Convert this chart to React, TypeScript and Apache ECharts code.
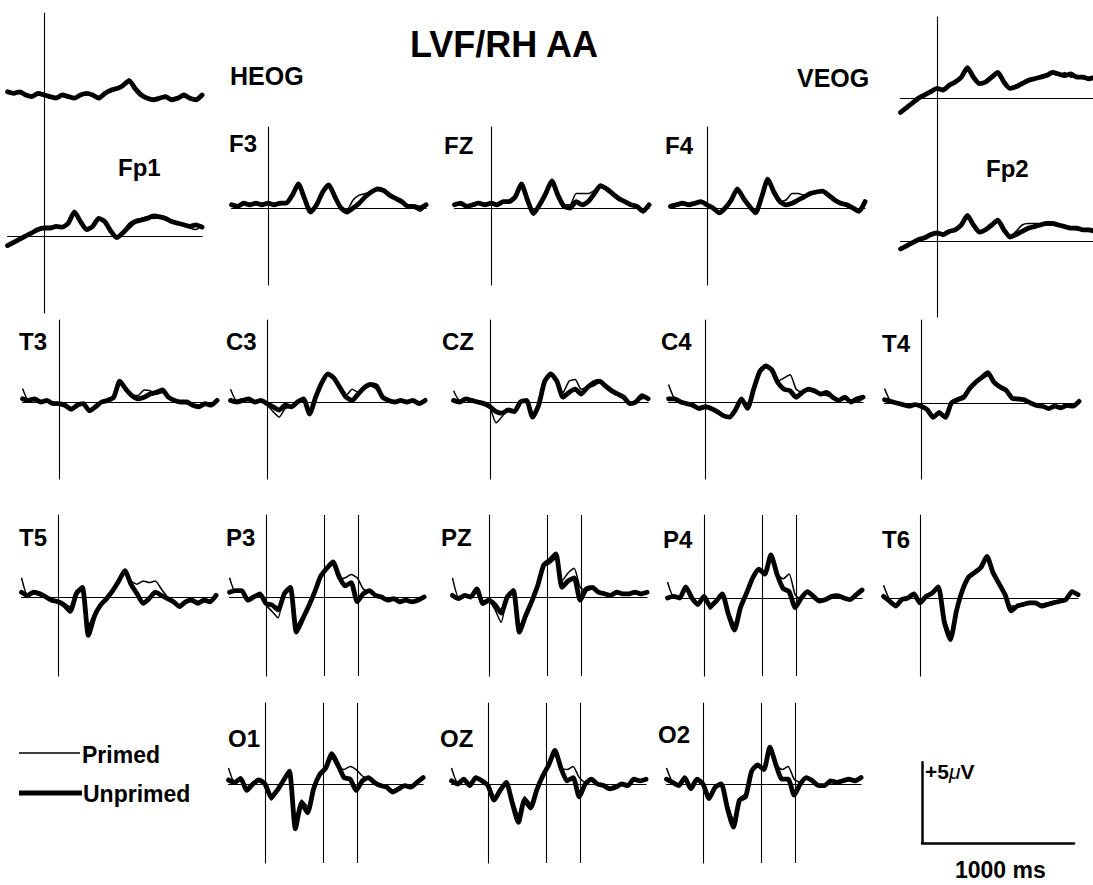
import React, { useEffect, useRef } from "react";
import * as echarts from "echarts";

// ---------- data (ms, µV) ----------
const TIMES = [-240, -200, -160, -120, -80, -40, 0, 40, 80, 120, 160, 200, 240, 280, 320, 360, 400, 440, 480, 520, 560, 600, 640, 680, 720, 760, 800, 840, 880, 920, 960, 1000, 1040];
const MARKER_TIMES = [385, 605];
const SCALE_MS = 1000;
const SCALE_UV = 5;

const HEOG_U = [0.2, 0.1, 0.2, 0.0, -0.1, 0.1, 0.0, -0.1, -0.2, 0.0, -0.1, -0.2, 0.0, 0.1, 0.0, -0.2, 0.1, 0.3, 0.4, 0.6, 0.9, 0.4, 0.0, -0.2, -0.3, -0.2, -0.1, -0.3, -0.2, 0.0, -0.2, -0.3, 0.0];
const HEOG_P = [0.1, 0.2, 0.1, 0.0, 0.0, 0.0, 0.1, -0.1, -0.1, 0.0, 0.0, -0.2, 0.0, 0.0, 0.1, -0.1, 0.1, 0.2, 0.4, 0.7, 1.0, 0.5, 0.0, -0.2, -0.2, -0.2, -0.2, -0.2, -0.1, -0.1, -0.2, -0.2, 0.0];
const FP1_U = [-0.6, -0.4, -0.2, 0.0, 0.2, 0.4, 0.5, 0.5, 0.6, 0.55, 0.8, 1.5, 0.9, 0.4, 0.6, 1.1, 0.9, 0.3, -0.1, 0.2, 0.6, 0.9, 1.0, 1.1, 1.25, 1.2, 1.1, 0.9, 0.8, 0.7, 0.6, 0.7, 0.55];
const FP1_P = [-0.5, -0.5, -0.1, 0.1, 0.2, 0.3, 0.5, 0.6, 0.5, 0.6, 0.9, 1.4, 0.8, 0.4, 0.5, 1.1, 0.9, 0.3, 0.0, 0.3, 0.8, 1.0, 1.1, 1.2, 1.1, 1.15, 1.0, 0.85, 0.8, 0.7, 0.5, 0.4, 0.7];
const F3_U = [0.2, 0.1, 0.3, 0.2, 0.3, 0.2, 0.3, 0.2, 0.3, 0.3, 0.8, 1.5, 0.6, -0.25, 0.2, 1.0, 1.45, 0.7, 0.0, -0.25, 0.0, 0.3, 0.7, 1.0, 1.2, 1.1, 0.8, 0.6, 0.4, 0.1, 0.1, 0.0, 0.2];
const F3_P = [0.3, 0.2, 0.2, 0.3, 0.2, 0.3, 0.2, 0.3, 0.2, 0.4, 0.9, 1.4, 0.5, -0.2, 0.3, 1.1, 1.4, 0.6, 0.1, -0.1, 0.5, 0.8, 0.9, 1.0, 1.1, 1.0, 0.9, 0.5, 0.3, 0.2, 0.0, -0.2, 0.1];
const FZ_U = [0.2, 0.3, 0.1, 0.2, 0.3, 0.2, 0.3, 0.2, 0.4, 0.4, 0.7, 1.5, 0.5, -0.35, 0.2, 0.9, 1.7, 0.8, 0.1, 0.0, 0.4, 0.2, 0.4, 0.9, 1.4, 1.2, 0.9, 0.6, 0.4, 0.2, 0.1, -0.2, 0.2];
const FZ_P = [0.3, 0.2, 0.2, 0.1, 0.3, 0.3, 0.2, 0.3, 0.3, 0.5, 0.8, 1.4, 0.4, -0.3, 0.3, 1.0, 1.6, 0.7, 0.2, 0.2, 0.9, 0.9, 0.9, 1.1, 1.3, 1.1, 0.8, 0.5, 0.4, 0.2, 0.0, -0.3, 0.3];
const F4_U = [0.1, 0.2, 0.3, 0.2, 0.3, 0.4, 0.2, 0.0, -0.3, 0.0, 0.5, 1.2, 0.6, 0.1, -0.3, 0.7, 1.8, 1.0, 0.4, 0.2, 0.3, 0.5, 0.7, 0.9, 1.0, 1.05, 0.8, 0.5, 0.3, 0.2, 0.0, -0.2, 0.4];
const F4_P = [0.2, 0.3, 0.2, 0.3, 0.2, 0.3, 0.3, -0.1, -0.2, 0.1, 0.6, 1.1, 0.5, 0.1, -0.2, 0.8, 1.7, 0.9, 0.4, 0.5, 0.9, 0.9, 0.8, 0.9, 1.0, 1.0, 0.7, 0.4, 0.3, 0.1, -0.1, -0.3, 0.3];
const VEOG_U = [-0.9, -0.6, -0.3, 0.0, 0.2, 0.4, 0.6, 0.5, 0.8, 1.0, 1.3, 1.9, 1.3, 0.9, 1.0, 1.3, 1.6, 1.0, 0.6, 0.7, 0.9, 1.1, 1.2, 1.3, 1.4, 1.6, 1.5, 1.4, 1.5, 1.3, 1.3, 1.2, 1.3];
const VEOG_P = [-0.8, -0.7, -0.2, 0.1, 0.2, 0.5, 0.6, 0.6, 0.7, 1.0, 1.2, 1.8, 1.2, 0.9, 1.1, 1.4, 1.5, 0.9, 0.6, 0.8, 1.0, 1.1, 1.2, 1.4, 1.5, 1.5, 1.4, 1.6, 1.3, 1.4, 1.2, 1.3, 1.2];
const FP2_U = [-0.5, -0.3, -0.1, 0.1, 0.2, 0.4, 0.5, 0.4, 0.6, 0.7, 1.0, 1.6, 1.0, 0.55, 0.7, 1.0, 1.3, 0.7, 0.25, 0.4, 0.6, 0.8, 0.9, 1.0, 1.1, 1.1, 1.0, 0.9, 0.8, 0.8, 0.7, 0.7, 0.6];
const FP2_P = [-0.4, -0.4, 0.0, 0.1, 0.3, 0.3, 0.5, 0.5, 0.5, 0.8, 1.1, 1.5, 0.9, 0.5, 0.8, 1.1, 1.2, 0.6, 0.3, 0.6, 1.0, 1.1, 1.1, 1.1, 1.0, 1.0, 0.9, 0.9, 0.8, 0.7, 0.7, 0.6, 0.6];
const T3_U = [0.2, 0.1, 0.2, 0.0, 0.1, -0.1, -0.1, -0.2, -0.45, -0.2, -0.1, -0.55, -0.3, 0.0, 0.1, 0.3, 1.3, 0.8, 0.4, 0.2, 0.3, 0.5, 0.6, 0.75, 0.3, 0.1, 0.0, 0.0, -0.2, -0.3, -0.1, -0.2, 0.1];
const T3_P = [0.85, 0.1, 0.1, 0.1, 0.0, 0.0, -0.2, -0.3, -0.5, -0.1, -0.2, -0.5, -0.2, 0.0, 0.2, 0.4, 1.2, 0.7, 0.4, 0.4, 0.75, 0.7, 0.5, 0.6, 0.3, 0.1, 0.0, -0.1, -0.2, -0.2, -0.2, -0.1, 0.1];
const C3_U = [0.1, 0.0, 0.1, 0.2, 0.0, 0.1, -0.1, -0.3, -0.5, -0.2, -0.3, 0.0, 0.2, -0.75, 0.3, 1.2, 1.75, 1.5, 0.9, 0.3, 0.1, 0.5, 0.9, 1.1, 1.0, 0.3, 0.1, 0.0, 0.1, 0.0, 0.1, -0.1, 0.1];
const C3_P = [0.8, 0.1, 0.2, 0.1, 0.0, 0.0, -0.2, -0.6, -0.95, -0.4, -0.3, 0.0, 0.2, -0.6, 0.3, 1.1, 1.7, 1.4, 0.8, 0.4, 0.8, 0.6, 0.8, 1.0, 0.8, 0.4, 0.2, 0.0, 0.1, 0.0, 0.0, 0.0, 0.1];
const CZ_U = [0.1, 0.0, 0.2, 0.1, 0.0, -0.1, -0.3, -0.6, -0.7, -0.5, -0.6, 0.0, 0.1, -0.95, -0.2, 1.3, 1.75, 1.3, 0.3, 0.6, 0.8, 0.5, 0.9, 1.2, 1.3, 1.0, 0.7, 0.5, 0.3, -0.1, 0.0, 0.4, 0.2];
const CZ_P = [0.7, 0.1, 0.2, 0.0, 0.0, -0.2, -0.4, -1.3, -0.9, -0.5, -0.6, 0.0, 0.1, -0.8, -0.1, 1.2, 1.7, 1.2, 0.6, 1.3, 1.4, 0.8, 0.9, 1.0, 1.2, 0.9, 0.6, 0.4, 0.2, -0.1, 0.1, 0.2, 0.3];
const C4_U = [0.2, 0.2, 0.0, -0.1, -0.2, -0.4, -0.3, -0.4, -0.6, -0.85, -0.95, -0.5, 0.2, -0.4, 0.8, 1.9, 2.25, 2.0, 1.2, 0.8, 0.7, 0.3, 0.6, 0.8, 0.7, 0.5, 0.6, 0.3, 0.1, 0.3, 0.0, 0.2, 0.3];
const C4_P = [1.1, 0.2, 0.1, -0.1, -0.3, -0.5, -0.2, -0.3, -0.7, -0.8, -0.9, -0.4, 0.1, -0.3, 0.7, 1.8, 2.2, 1.9, 1.3, 1.5, 1.7, 0.8, 0.6, 0.7, 0.6, 0.5, 0.4, 0.3, 0.1, 0.2, 0.1, 0.0, 0.2];
const T4_U = [0.2, 0.1, 0.0, -0.1, -0.2, -0.1, -0.2, -0.4, -0.9, -0.6, -0.9, 0.0, 0.2, 0.35, 0.9, 1.3, 1.6, 1.9, 1.3, 1.0, 0.8, 0.3, 0.25, 0.2, 0.0, -0.15, -0.2, -0.35, -0.2, -0.3, -0.15, -0.2, 0.1];
const T4_P = [0.9, 0.1, 0.0, -0.1, -0.1, -0.2, -0.1, -0.5, -0.8, -0.5, -0.8, 0.1, 0.3, 0.5, 1.0, 1.4, 1.5, 1.7, 1.4, 1.1, 0.7, 0.4, 0.2, 0.1, 0.0, -0.2, -0.2, -0.3, -0.2, -0.2, -0.2, -0.1, 0.1];
const T5_U = [0.3, 0.1, 0.3, 0.2, 0.0, -0.2, -0.3, -0.5, -0.9, 0.2, 0.6, -2.4, -1.2, -0.5, -0.1, 0.4, 1.0, 1.65, 0.8, 0.2, -0.4, -0.1, 0.3, 0.1, -0.1, -0.3, -0.6, -0.3, -0.2, -0.4, -0.2, -0.3, 0.1];
const T5_P = [1.2, 0.1, 0.2, 0.1, 0.1, -0.3, -0.2, -0.4, -0.6, 0.4, 0.5, -1.8, -1.0, -0.4, 0.0, 0.5, 1.0, 1.5, 1.0, 0.8, 1.0, 0.9, 1.0, 0.5, 0.0, -0.3, -0.5, -0.2, -0.1, -0.3, -0.1, -0.2, 0.2];
const P3_U = [0.3, 0.4, 0.4, -0.2, 0.0, 0.2, -0.4, -0.5, -0.8, 0.2, 0.6, -2.2, -1.4, -0.6, 0.3, 1.3, 1.8, 2.2, 1.3, 0.7, 0.9, -0.3, 0.2, 0.4, 0.1, 0.0, -0.2, -0.1, -0.3, -0.2, -0.3, -0.2, 0.0];
const P3_P = [1.2, 0.3, 0.4, -0.1, 0.1, 0.1, -0.5, -0.9, -1.3, 0.3, 0.7, -1.8, -1.2, -0.5, 0.4, 1.2, 1.7, 2.0, 1.1, 1.2, 1.4, 1.2, 0.5, 0.3, 0.1, 0.0, -0.1, -0.2, -0.2, -0.2, -0.3, -0.1, 0.1];
const PZ_U = [0.1, -0.1, 0.1, 0.0, 0.5, -0.4, -0.2, -0.5, -1.0, 0.0, 0.4, -2.2, -1.2, -0.3, 0.7, 2.0, 2.3, 2.7, 0.6, 1.0, 1.2, -0.2, 0.5, 0.6, 0.3, 0.2, 0.1, 0.3, 0.2, 0.2, 0.3, 0.2, 0.3];
const PZ_P = [1.2, 0.0, 0.0, 0.1, 0.4, -0.5, -0.3, -0.8, -1.6, 0.1, 0.5, -1.9, -1.1, -0.2, 0.8, 1.9, 2.1, 2.4, 1.0, 1.5, 1.8, 0.6, 0.4, 0.5, 0.3, 0.2, 0.1, 0.2, 0.2, 0.1, 0.2, 0.1, 0.3];
const P4_U = [0.0, 0.1, 0.0, 0.7, 0.0, -0.4, 0.1, -0.5, -0.2, 0.25, -1.0, -2.0, -0.6, 0.3, 1.25, 1.8, 1.5, 2.7, 1.5, 0.6, 0.4, -0.6, 0.0, 0.4, 0.1, -0.2, -0.1, 0.1, 0.15, 0.0, -0.1, 0.2, 0.5];
const P4_P = [1.0, 0.1, 0.1, 0.6, 0.1, -0.5, 0.0, -0.7, -0.3, 0.3, -0.8, -1.6, -0.5, 0.4, 1.2, 1.7, 1.6, 2.4, 1.5, 1.2, 1.5, 0.2, -0.1, 0.3, 0.1, -0.1, -0.1, 0.0, 0.1, 0.0, -0.1, 0.1, 0.4];
const T6_U = [0.1, -0.2, -0.5, -0.1, 0.0, 0.25, -0.3, 0.1, 0.3, 0.7, -1.5, -2.6, -0.8, 0.5, 1.3, 1.6, 1.9, 2.6, 1.6, 0.9, 0.2, -0.8, -0.5, -0.4, -0.3, -0.3, -0.5, -0.4, -0.3, -0.2, -0.1, 0.4, 0.2];
const T6_P = [0.8, -0.1, -0.4, 0.0, 0.0, 0.2, -0.2, 0.1, 0.4, 0.6, -1.2, -2.2, -0.7, 0.6, 1.4, 1.5, 1.8, 2.4, 1.7, 1.0, 0.3, -0.5, -0.5, -0.3, -0.3, -0.4, -0.4, -0.3, -0.2, -0.2, 0.0, 0.3, 0.3];
const O1_U = [0.25, 0.1, 0.35, -0.4, 0.0, 0.25, 0.0, -0.8, -0.4, 0.2, 0.8, -2.8, -1.2, -1.8, -0.3, 0.6, 1.0, 1.9, 1.2, 0.4, 0.3, -0.4, 0.2, 0.4, 0.1, -0.1, -0.2, -0.5, -0.3, -0.1, -0.2, 0.1, 0.4];
const O1_P = [1.0, 0.1, 0.3, -0.3, 0.1, 0.2, -0.1, -1.0, -0.5, 0.3, 0.7, -2.2, -1.0, -1.4, -0.1, 0.6, 0.9, 1.6, 1.0, 0.9, 1.1, 0.9, 0.5, 0.3, 0.1, -0.1, -0.2, -0.4, -0.2, -0.1, -0.1, 0.2, 0.3];
const OZ_U = [0.2, 0.0, 0.3, -0.1, 0.4, 0.2, -0.1, -1.0, -0.4, 0.1, -1.2, -2.4, -1.0, -1.5, -0.4, 0.5, 1.2, 2.1, 1.0, 0.2, 0.4, -0.8, 0.0, 0.3, 0.0, -0.1, -0.3, -0.2, 0.0, -0.1, 0.3, 0.2, 0.3];
const OZ_P = [1.0, 0.1, 0.2, 0.0, 0.3, 0.1, -0.2, -1.1, -0.5, 0.2, -0.9, -1.9, -0.8, -1.2, -0.2, 0.6, 1.1, 1.8, 1.0, 0.9, 1.1, 0.4, 0.1, 0.2, 0.0, -0.1, -0.2, -0.1, 0.0, 0.0, 0.2, 0.2, 0.2];
const O2_U = [0.3, 0.1, -0.1, 0.4, -0.3, 0.3, 0.0, -0.9, -0.2, 0.0, -1.5, -2.7, -1.0, -0.8, 0.8, 1.2, 0.9, 2.3, 1.2, 0.3, 0.3, -0.7, 0.0, 0.4, 0.2, -0.1, -0.1, 0.2, 0.1, 0.2, 0.3, 0.2, 0.4];
const O2_P = [1.0, 0.1, 0.0, 0.3, -0.2, 0.2, -0.1, -1.0, -0.3, 0.1, -1.2, -2.2, -0.9, -0.6, 0.7, 1.1, 1.0, 2.0, 1.2, 0.9, 1.1, 0.3, 0.1, 0.3, 0.2, 0.0, -0.1, 0.1, 0.1, 0.2, 0.2, 0.1, 0.3];

// ---------- layout ----------
const PX_PER_MS = 0.152;
const PX_PER_UV = 16;
const T_MIN = -240;
const T_MAX = 1040;
const FONT = "'Liberation Sans', Arial, Helvetica, sans-serif";

type Panel = {
  unprimed: number[];
  primed: number[];
  onsetX: number;
  baseY: number;
  top: number;
  bottom: number;
  baseline: boolean;
  onset: boolean;
  markers: boolean;
};

const mk = (u: number[], p: number[], onsetX: number, baseY: number, top: number, bottom: number, opts: Partial<Panel> = {}): Panel => ({
  unprimed: u, primed: p, onsetX, baseY, top, bottom, baseline: true, onset: true, markers: false, ...opts,
});

const PANELS: Panel[] = [
  mk(HEOG_U, HEOG_P, 44, 95, 55, 135, { baseline: false, onset: false }),
  mk(FP1_U, FP1_P, 44, 236, 13, 313),
  mk(VEOG_U, VEOG_P, 937, 98, 58, 138, { onset: false }),
  mk(FP2_U, FP2_P, 937, 241, 17, 317),
  mk(F3_U, F3_P, 268, 208, 127, 285),
  mk(FZ_U, FZ_P, 491, 208, 127, 285),
  mk(F4_U, F4_P, 707, 208, 127, 285),
  mk(T3_U, T3_P, 59, 402, 320, 479),
  mk(C3_U, C3_P, 267, 402, 320, 479),
  mk(CZ_U, CZ_P, 490, 402, 320, 479),
  mk(C4_U, C4_P, 705, 402, 320, 479),
  mk(T4_U, T4_P, 921, 403, 320, 479),
  mk(T5_U, T5_P, 58, 597, 515, 676),
  mk(P3_U, P3_P, 266, 597, 515, 676, { markers: true }),
  mk(PZ_U, PZ_P, 489, 597, 515, 676, { markers: true }),
  mk(P4_U, P4_P, 704, 598, 515, 676, { markers: true }),
  mk(T6_U, T6_P, 920, 598, 515, 676),
  mk(O1_U, O1_P, 265, 784, 703, 863, { markers: true }),
  mk(OZ_U, OZ_P, 488, 784, 703, 863, { markers: true }),
  mk(O2_U, O2_P, 703, 784, 703, 863, { markers: true }),
];

const LABELS: { text: string; x: number; y: number; size?: number }[] = [
  { text: "LVF/RH AA", x: 410, y: 44, size: 36 },
  { text: "HEOG", x: 230, y: 76, size: 25 },
  { text: "VEOG", x: 797, y: 78, size: 25 },
  { text: "Fp1", x: 118, y: 167 },
  { text: "Fp2", x: 986, y: 168 },
  { text: "F3", x: 229, y: 143 },
  { text: "FZ", x: 444, y: 145 },
  { text: "F4", x: 665, y: 145 },
  { text: "T3", x: 19, y: 341 },
  { text: "C3", x: 226, y: 341 },
  { text: "CZ", x: 442, y: 341 },
  { text: "C4", x: 661, y: 341 },
  { text: "T4", x: 882, y: 343 },
  { text: "T5", x: 19, y: 537 },
  { text: "P3", x: 226, y: 537 },
  { text: "PZ", x: 441, y: 537 },
  { text: "P4", x: 663, y: 539 },
  { text: "T6", x: 882, y: 539 },
  { text: "O1", x: 228, y: 738 },
  { text: "OZ", x: 440, y: 738 },
  { text: "O2", x: 658, y: 734 },
];

function buildOption() {
  const grid: any[] = [];
  const xAxis: any[] = [];
  const yAxis: any[] = [];
  const series: any[] = [];
  const lineColor = "#000";

  PANELS.forEach((p, i) => {
    const left = p.onsetX + T_MIN * PX_PER_MS;
    grid.push({
      left, top: p.top, width: (T_MAX - T_MIN) * PX_PER_MS, height: p.bottom - p.top,
      containLabel: false, outerBoundsMode: "none", show: false,
    });
    xAxis.push({
      type: "value", gridIndex: i, min: T_MIN, max: T_MAX,
      axisLine: { show: p.baseline, onZero: true, lineStyle: { color: lineColor, width: 1.2 } },
      axisTick: { show: false }, axisLabel: { show: false }, splitLine: { show: false },
    });
    yAxis.push({
      type: "value", gridIndex: i,
      min: -(p.bottom - p.baseY) / PX_PER_UV, max: (p.baseY - p.top) / PX_PER_UV,
      axisLine: { show: p.onset, onZero: true, lineStyle: { color: lineColor, width: 1.1 } },
      axisTick: { show: false }, axisLabel: { show: false }, splitLine: { show: false },
    });
    series.push({
      type: "line", xAxisIndex: i, yAxisIndex: i, name: "Unprimed",
      data: TIMES.map((t, k) => [t, p.unprimed[k]]),
      showSymbol: false, symbol: "none", smooth: 0.2, silent: true,
      lineStyle: { color: lineColor, width: 4.8, join: "round", cap: "round" },
      markLine: p.markers
        ? {
            silent: true, symbol: "none", label: { show: false },
            lineStyle: { color: lineColor, width: 1.1, type: "solid" },
            data: MARKER_TIMES.map((t) => ({ xAxis: t })),
          }
        : undefined,
    });
    series.push({
      type: "line", xAxisIndex: i, yAxisIndex: i, name: "Primed",
      data: TIMES.map((t, k) => [t, p.primed[k]]),
      showSymbol: false, symbol: "none", smooth: 0.2, silent: true,
      lineStyle: { color: lineColor, width: 1.5, join: "round" },
    });
  });

  // scale bar (1000 ms x 5 µV)
  const si = PANELS.length;
  grid.push({
    left: 922, top: 843 - SCALE_UV * PX_PER_UV * 1.01, width: SCALE_MS * PX_PER_MS, height: SCALE_UV * PX_PER_UV * 1.01,
    containLabel: false, outerBoundsMode: "none", show: false,
  });
  xAxis.push({
    type: "value", gridIndex: si, min: 0, max: SCALE_MS,
    axisLine: { show: true, onZero: false, lineStyle: { color: lineColor, width: 2.5 } },
    axisTick: { show: false }, axisLabel: { show: false }, splitLine: { show: false },
  });
  yAxis.push({
    type: "value", gridIndex: si, min: 0, max: SCALE_UV,
    axisLine: { show: true, onZero: false, lineStyle: { color: lineColor, width: 2.5 } },
    axisTick: { show: false }, axisLabel: { show: false }, splitLine: { show: false },
  });
  series.push({ type: "line", xAxisIndex: si, yAxisIndex: si, data: [], silent: true });

  const textEl = (text: string, x: number, y: number, size = 24) => ({
    type: "text", x, y, silent: true,
    style: {
      text, fill: "#000", fontFamily: FONT, fontWeight: "bold", fontSize: size,
      align: "left", verticalAlign: "middle", textAlign: "left", textVerticalAlign: "middle",
    },
  });

  const graphic: any[] = LABELS.map((l) => textEl(l.text, l.x, l.y, l.size ?? 24));
  graphic.push(
    { type: "line", silent: true, shape: { x1: 19, y1: 753, x2: 80, y2: 753 }, style: { stroke: "#000", lineWidth: 1.4 } },
    { type: "line", silent: true, shape: { x1: 19, y1: 793, x2: 82, y2: 793 }, style: { stroke: "#000", lineWidth: 4.8 } },
    textEl("Primed", 82, 755, 23),
    textEl("Unprimed", 83, 794, 23),
    {
      type: "text", x: 925, y: 771, silent: true,
      style: {
        text: "{a|+5}{b|μ}{a|V}",
        align: "left", verticalAlign: "middle", textAlign: "left", textVerticalAlign: "middle",
        rich: {
          a: { fontFamily: FONT, fontWeight: "bold", fontSize: 21, fill: "#000" },
          b: { fontFamily: FONT, fontStyle: "italic", fontWeight: "normal", fontSize: 21, fill: "#000" },
        },
      },
    },
    textEl("1000 ms", 955, 870, 23),
  );

  return {
    animation: false,
    backgroundColor: "#fff",
    grid, xAxis, yAxis, series, graphic,
  };
}

export default function App() {
  const ref = useRef<HTMLDivElement>(null);
  useEffect(() => {
    if (!ref.current) return;
    const chart = echarts.init(ref.current, undefined, { renderer: "svg" });
    chart.setOption(buildOption() as any);
    return () => chart.dispose();
  }, []);
  return (
    <div
      ref={ref}
      style={{ position: "absolute", left: 0, top: 0, width: 1093, height: 885, background: "#fff" }}
    />
  );
}
